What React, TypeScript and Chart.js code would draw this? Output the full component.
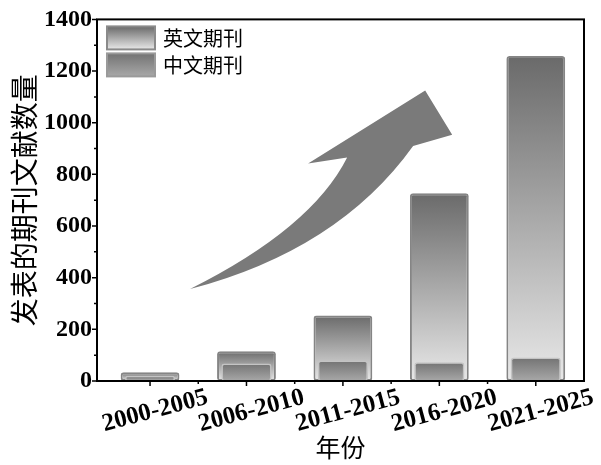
import { useEffect, useRef } from 'react';
import { Chart, registerables } from 'chart.js';

Chart.register(...registerables);

const categories = ['2000-2005', '2006-2010', '2011-2015', '2016-2020', '2021-2025'];
const englishCounts = [34, 115, 254, 727, 1258];
const chineseCounts = [20, 68, 79, 73, 91];
const seriesNames = ['英文期刊', '中文期刊'];

// decorative trend arrow, in (category index, value) space
const arrowPath = {
  tail: [0.415, 356],
  upperCtrl: [1.675, 591],
  upperEnd: [2.044, 865],
  barb: [1.639, 842],
  tip: [2.853, 1125],
  corner: [3.133, 953],
  inner: [2.728, 910],
  lowerCtrl: [1.955, 507]
};

const SERIF = "'Liberation Serif', 'Times New Roman', serif";
const CJK = "'Noto Sans CJK SC', 'Noto Sans', sans-serif";

function englishFill(ctx: CanvasRenderingContext2D, top: number, bottom: number) {
  const g = ctx.createLinearGradient(0, top, 0, bottom);
  g.addColorStop(0, '#6a6a6a');
  g.addColorStop(1, '#e8e8e8');
  return g;
}

function chineseFill(ctx: CanvasRenderingContext2D, top: number, bottom: number) {
  const g = ctx.createLinearGradient(0, top, 0, bottom);
  g.addColorStop(0, '#737373');
  g.addColorStop(1, '#a8a8a8');
  return g;
}

function barGradient(maker: typeof englishFill, fallback: string) {
  return (c: any) => {
    const chart = c.chart;
    if (!chart.chartArea || !c.parsed) return fallback;
    const y = chart.scales.y;
    return maker(chart.ctx, y.getPixelForValue(c.parsed.y), y.getPixelForValue(0));
  };
}

const decorPlugin = {
  id: 'decor',
  afterDatasetsDraw(chart: any) {
    const { ctx, scales } = chart;
    const x = scales.x;
    const y = scales.y;
    const p = (v: number[]) => [x.getPixelForValue(v[0]), y.getPixelForValue(v[1])];

    // arrow
    const t = p(arrowPath.tail), uc = p(arrowPath.upperCtrl), ue = p(arrowPath.upperEnd);
    const b = p(arrowPath.barb), tip = p(arrowPath.tip), co = p(arrowPath.corner);
    const inn = p(arrowPath.inner), lc = p(arrowPath.lowerCtrl);
    ctx.save();
    ctx.fillStyle = '#7a7a7a';
    ctx.beginPath();
    ctx.moveTo(t[0], t[1]);
    ctx.quadraticCurveTo(uc[0], uc[1], ue[0], ue[1]);
    ctx.lineTo(b[0], b[1]);
    ctx.lineTo(tip[0], tip[1]);
    ctx.lineTo(co[0], co[1]);
    ctx.lineTo(inn[0], inn[1]);
    ctx.quadraticCurveTo(lc[0], lc[1], t[0], t[1]);
    ctx.closePath();
    ctx.fill();
    ctx.restore();
  },
  afterDraw(chart: any) {
    const { ctx, chartArea: a, scales } = chart;
    const x = scales.x;
    const y = scales.y;
    ctx.save();
    ctx.strokeStyle = '#000';
    ctx.lineWidth = 2;
    ctx.strokeRect(a.left, a.top, a.right - a.left, a.bottom - a.top);

    // y ticks
    ctx.lineWidth = 1.5;
    ctx.beginPath();
    for (let v = 0; v <= 1400; v += 100) {
      const py = y.getPixelForValue(v);
      const len = v % 200 === 0 ? 5 : 3;
      ctx.moveTo(a.left - len, py);
      ctx.lineTo(a.left, py);
    }
    // x ticks
    categories.forEach((_, i) => {
      const px = x.getPixelForValue(i);
      ctx.moveTo(px, a.bottom);
      ctx.lineTo(px, a.bottom + 5);
      const mx = x.getPixelForValue(i + 0.5);
      if (mx < a.right - 1) {
        ctx.moveTo(mx, a.bottom);
        ctx.lineTo(mx, a.bottom + 3);
      }
    });
    ctx.stroke();

    // rotated category labels
    ctx.fillStyle = '#000';
    ctx.font = `bold 25px ${SERIF}`;
    ctx.textAlign = 'center';
    ctx.textBaseline = 'middle';
    categories.forEach((label, i) => {
      ctx.save();
      ctx.translate(x.getPixelForValue(i) + 5, a.bottom + 30);
      ctx.rotate((-15 * Math.PI) / 180);
      ctx.fillText(label, 0, 0);
      ctx.restore();
    });

    // legend
    const lx = a.left + 10;
    const rows = [a.top + 7, a.top + 34];
    const makers = [englishFill, chineseFill];
    const borders = ['#8a8a8a', '#9a9a9a'];
    ctx.font = `20px ${CJK}`;
    ctx.textAlign = 'left';
    seriesNames.forEach((name, i) => {
      const ry = rows[i];
      ctx.fillStyle = makers[i](ctx, ry, ry + 23);
      ctx.fillRect(lx, ry, 48, 23);
      ctx.strokeStyle = borders[i];
      ctx.lineWidth = 2;
      ctx.strokeRect(lx, ry, 48, 23);
      ctx.fillStyle = '#000';
      ctx.fillText(name, lx + 56, ry + 12);
    });
    ctx.restore();
  }
};

export default function App() {
  const canvasRef = useRef<HTMLCanvasElement>(null);
  const chartRef = useRef<Chart | null>(null);

  useEffect(() => {
    if (!canvasRef.current) return;
    if (chartRef.current) chartRef.current.destroy();

    chartRef.current = new Chart(canvasRef.current, {
      type: 'bar',
      data: {
        datasets: [
          {
            label: seriesNames[0],
            data: englishCounts.map((v, i) => ({ x: i, y: v })),
            backgroundColor: barGradient(englishFill, '#aaaaaa'),
            borderColor: '#858585',
            borderWidth: 2,
            borderRadius: 3,
            borderSkipped: false,
            barPercentage: 0.61,
            categoryPercentage: 1,
            grouped: false,
            order: 2
          },
          {
            label: seriesNames[1],
            data: chineseCounts.map((v, i) => ({ x: i, y: v })),
            backgroundColor: barGradient(chineseFill, '#8c8c8c'),
            borderColor: '#c4c4c4',
            borderWidth: 1.5,
            borderRadius: 3,
            borderSkipped: false,
            barPercentage: 0.52,
            categoryPercentage: 1,
            grouped: false,
            order: 1
          }
        ] as any
      },
      options: {
        responsive: false,
        animation: false,
        layout: { padding: { top: 15, right: 17, left: 0, bottom: 0 } },
        plugins: { legend: { display: false }, tooltip: { enabled: false } },
        scales: {
          x: {
            type: 'linear',
            offset: false,
            min: -0.55,
            max: 4.5,
            grid: { display: false, drawTicks: false, offset: false },
            border: { display: false },
            ticks: { display: false, stepSize: 1, includeBounds: false },
            title: {
              display: true,
              text: '年份',
              color: '#000',
              font: { family: CJK, size: 25 },
              padding: { top: 0, bottom: 3 }
            },
            afterFit: (s: any) => {
              s.height = 84;
            }
          },
          y: {
            min: 0,
            max: 1400,
            grid: { display: false, drawTicks: false },
            border: { display: false },
            ticks: {
              stepSize: 200,
              color: '#000',
              padding: 5,
              font: { family: SERIF, size: 24, weight: 'bold' },
              callback: (v: any) => String(v)
            },
            title: {
              display: true,
              text: '发表的期刊文献数量',
              color: '#000',
              font: { family: CJK, size: 28 },
              padding: { top: 8, bottom: 0 }
            },
            afterFit: (s: any) => {
              s.width = 97;
            }
          }
        }
      },
      plugins: [decorPlugin]
    });

    return () => {
      if (chartRef.current) {
        chartRef.current.destroy();
        chartRef.current = null;
      }
    };
  }, []);

  return (
    <div style={{ position: 'fixed', left: 0, top: 0, width: 601, height: 465, background: '#fff' }}>
      <canvas ref={canvasRef} width={601} height={465} />
    </div>
  );
}
